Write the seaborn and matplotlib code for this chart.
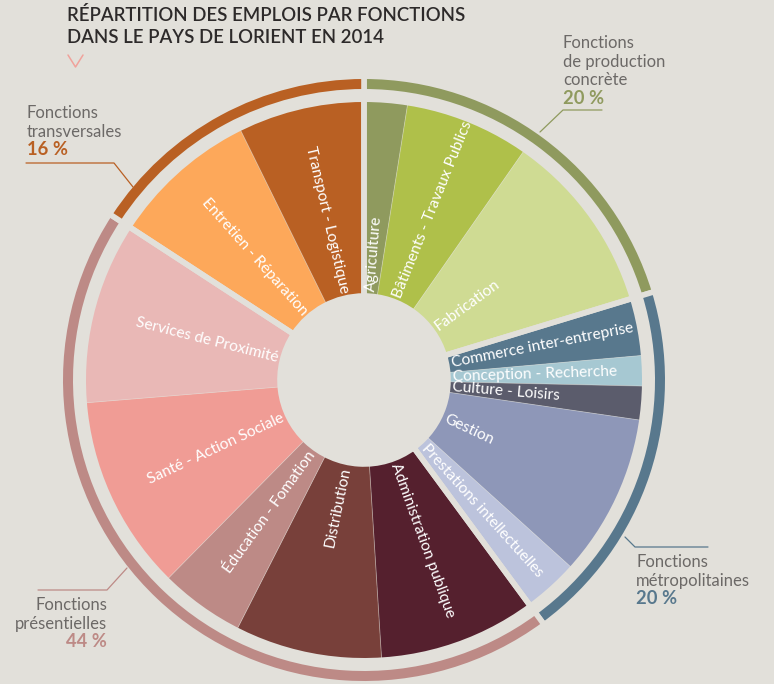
import numpy as np
import pandas as pd
import matplotlib
matplotlib.use("Agg")
import matplotlib.pyplot as plt
import seaborn as sns

# ---------------- data ----------------
categories = ["Agriculture", "Bâtiments - Travaux Publics", "Fabrication",
              "Commerce inter-entreprise", "Conception - Recherche", "Culture - Loisirs",
              "Gestion", "Prestations intellectuelles",
              "Administration publique", "Distribution", "Éducation - Fomation",
              "Santé - Action Sociale", "Services de Proximité",
              "Entretien - Réparation", "Transport - Logistique"]
shares = [2.5, 7.2, 10.6,
          3.3, 1.75, 1.95, 9.4, 3.2,
          9.1, 8.5, 4.9, 11.3, 10.5,
          8.5, 7.3]
group_index = [0, 0, 0, 1, 1, 1, 1, 1, 2, 2, 2, 2, 2, 3, 3]
group_names = [["Fonctions", "de production", "concrète"],
               ["Fonctions", "métropolitaines"],
               ["Fonctions", "présentielles"],
               ["Fonctions", "transversales"]]
group_pct_labels = ["20 %", "20 %", "44 %", "16 %"]
title_lines = ["RÉPARTITION DES EMPLOIS PAR FONCTIONS",
               "DANS LE PAYS DE LORIENT EN 2014"]

# ---------------- style ----------------
wedge_colors = ["#8f9a5e", "#afc04a", "#cfdb93",
                "#58788d", "#a6c8d2", "#5b5c6c", "#8e97b8", "#bcc3dc",
                "#55202e", "#78403a", "#bd8a86", "#f09c95", "#e9b8b6",
                "#fda85a", "#b96023"]
group_colors = ["#8f9a5e", "#58788d", "#bd8a86", "#b96023"]
BG = "#e2e0da"
TXT = "#6c6967"

sns.set_theme(style="white", rc={"figure.facecolor": BG, "axes.facecolor": BG,
                                 "savefig.facecolor": BG})
plt.rcParams["font.family"] = ["Lato", "DejaVu Sans"]

df = pd.DataFrame({"cat": categories, "share": shares, "group": group_index})
gdf = df.groupby("group")["share"].sum()
palette = sns.color_palette(wedge_colors)
gpalette = sns.color_palette(group_colors)

fig = plt.figure(figsize=(7.74, 6.84), dpi=100)
ax = fig.add_axes([0, 0, 1, 1])

CX, CY = 364, 380          # pixel layout (y downward)
PT = 0.72                  # points per pixel
GAP = 5.6
R_OUT, R_IN = 278, 84
RING_OUT, RING_W = 301, 10

# main donut
ax.pie(df["share"], colors=palette, startangle=-90, counterclock=True,
       radius=R_OUT + GAP / 2, center=(CX, CY),
       wedgeprops=dict(width=R_OUT + GAP / 2 - R_IN, linewidth=0.6,
                       edgecolor=(0.9, 0.9, 0.88, 0.35)))
# gaps between groups
ax.pie(gdf.values, colors=["none"] * len(gdf), startangle=-90, counterclock=True,
       radius=R_OUT + GAP / 2, center=(CX, CY),
       wedgeprops=dict(width=R_OUT + GAP / 2 - R_IN, facecolor="none",
                       edgecolor=BG, linewidth=GAP * PT))
# outer ring
ax.pie(gdf.values, colors=gpalette, startangle=-90, counterclock=True,
       radius=RING_OUT + GAP / 2, center=(CX, CY),
       wedgeprops=dict(width=RING_W + GAP, edgecolor=BG, linewidth=GAP * PT))

# wedge labels
vals = np.array(shares)
mids = (np.cumsum(vals) - vals / 2) / vals.sum() * 360.0
for cat, t in zip(categories, mids):
    r = 89
    x = CX + r * np.sin(np.radians(t))
    y = CY - r * np.cos(np.radians(t))
    if t < 180:
        rot, ha = 90 - t, "left"
    else:
        rot, ha = 270 - t, "right"
    ax.text(x, y, cat, rotation=rot, rotation_mode="anchor", ha=ha, va="center",
            color="white", fontsize=11.2)

# title
for i, line in enumerate(title_lines):
    ax.text(67, 20.7 + 22.6 * i, line, ha="left", va="baseline", fontsize=13.4,
            fontweight="semibold", color="#2d2a2a")
ax.plot([68, 75.5, 83], [55, 67, 55], color="#f0a29b", lw=1.1)

# group annotations (layout)
ann = [
    dict(x=563, ha="left", base=48, lines=[(602, 110), (563, 110), (540, 132)]),
    dict(x=636, ha="left", base=567, lines=[(625, 537), (635, 547), (708, 547)]),
    dict(x=107, ha="right", base=610, lines=[(38, 590), (107, 590), (127, 568)]),
    dict(x=27, ha="left", base=118, lines=[(26, 163), (114, 163), (133, 187)]),
]
for g, a in enumerate(ann):
    yb = a["base"]
    for j, ln in enumerate(group_names[g]):
        ax.text(a["x"], yb + 18.6 * j, ln, ha=a["ha"], va="baseline",
                fontsize=12, fontweight="normal", color=TXT)
    ax.text(a["x"], yb + 18.6 * len(group_names[g]), group_pct_labels[g],
            ha=a["ha"], va="baseline", fontsize=13.2, fontweight="bold",
            color=group_colors[g])
    xs, ys = zip(*a["lines"])
    ax.plot(xs, ys, color=group_colors[g], lw=0.9)

ax.set_xlim(0, 774)
ax.set_ylim(684, 0)
ax.set_aspect("equal")
ax.axis("off")
fig.savefig("out.png", dpi=100, facecolor=BG)
